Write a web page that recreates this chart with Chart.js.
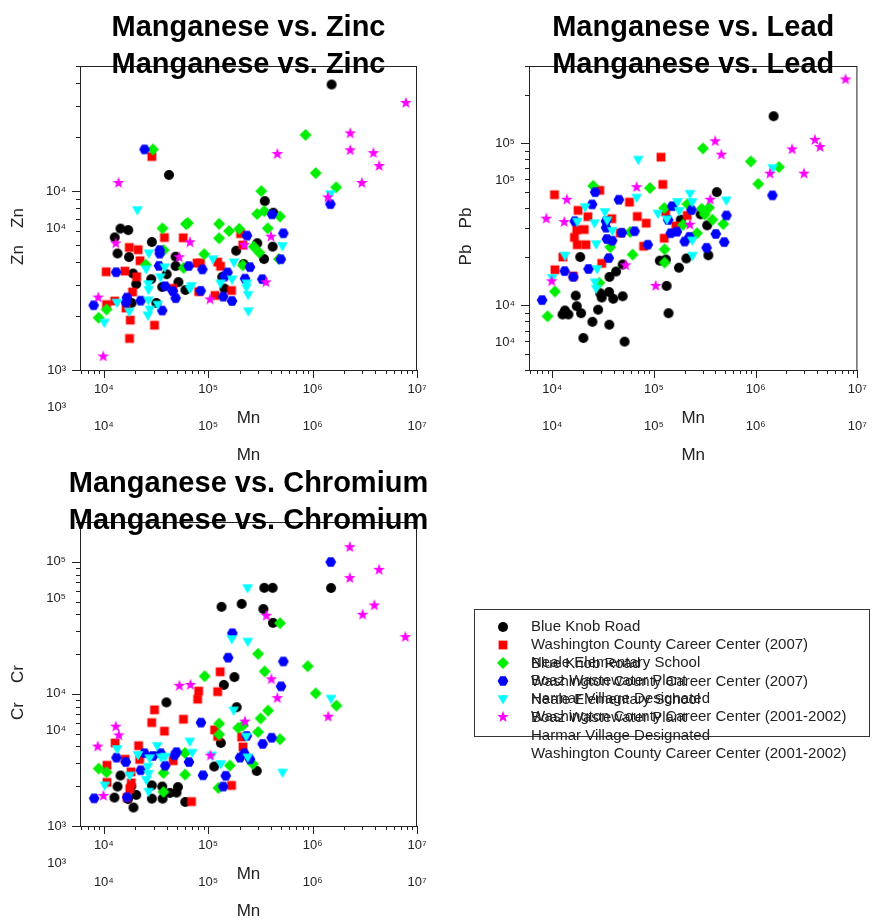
<!DOCTYPE html>
<html>
<head>
<meta charset="utf-8">
<script src="https://cdn.jsdelivr.net/npm/chart.js@4.4.1/dist/chart.umd.min.js"></script>
<style>
  body { margin: 0; background: #fff; width: 879px; height: 923px; position: relative; overflow: hidden; }
  canvas { position: absolute; }
</style>
</head>
<body>
<canvas id="zinc" width="440" height="467" style="left:0;top:0"></canvas>
<canvas id="lead" width="439" height="467" style="left:440px;top:0"></canvas>
<canvas id="chromium" width="440" height="467" style="left:0;top:456px"></canvas>
<canvas id="legend" width="419" height="180" style="left:460px;top:600px"></canvas>
<script>
const seriesNames = ['Blue Knob Road', 'Washington County Career Center (2007)', 'Neale Elementary School',
  'Boaz Wastewater Plant', 'Harmar Village Designated', 'Washington County Career Center (2001-2002)'];
const seriesColors = ['#000000', '#ff0000', '#00ee00', '#0000ff', '#00ffff', '#ff00ff'];
const seriesShapes = ['circle', 'square', 'diamond', 'hexagon', 'triangleDown', 'star'];

// axis ticks (labels only on powers of ten)
const mnTicks = [6e3, 7e3, 8e3, 9e3, 1e4, 2e4, 3e4, 4e4, 5e4, 6e4, 7e4, 8e4, 9e4, 1e5, 2e5, 3e5, 4e5, 5e5, 6e5, 7e5, 8e5, 9e5,
  1e6, 2e6, 3e6, 4e6, 5e6, 6e6, 7e6, 8e6, 9e6, 1e7];
const znTicks = [1e3, 2e3, 3e3, 4e3, 5e3, 6e3, 7e3, 8e3, 9e3, 1e4, 2e4, 3e4, 4e4, 5e4];
const pbTicks = [4e3, 5e3, 6e3, 7e3, 8e3, 9e3, 1e4, 2e4, 3e4, 4e4, 5e4, 6e4, 7e4, 8e4, 9e4, 1e5, 2e5, 3e5];
const crTicks = [1e3, 2e3, 3e3, 4e3, 5e3, 6e3, 7e3, 8e3, 9e3, 1e4, 2e4, 3e4, 4e4, 5e4, 6e4, 7e4, 8e4, 9e4, 1e5, 2e5];

// [Mn, Zn]
const znBlueKnob = [[1520000,39400],[42000,12300],[14400,6170],[17100,6050],[12700,5510],[28800,5190],[13500,4480],[17400,4280],[48600,4300],[19000,3460],[20400,3020],[28400,3220],[39900,3430],[48600,3810],[36200,2910],[51700,3100],[60400,2800],[18400,2370],[31800,2370],[136000,3310],[143000,2850],[185000,4640],[218000,3910],[295000,5110],[348000,8790],[342000,4170],[414000,4890],[420000,7570]];
const znCareer2007 = [[28800,15600],[38000,5500],[57500,5480],[17500,4840],[21300,4700],[22200,4080],[10500,3540],[15900,3570],[20600,3320],[18800,2730],[12700,2430],[10600,2320],[16300,2220],[17900,1900],[30500,1780],[17600,1500],[46000,2860],[78000,3960],[84100,3960],[123000,4010],[131000,3800],[80900,2740],[116000,2610],[167000,2780],[204000,5780],[214000,4990]];
const znNeale = [[29500,17100],[855000,20600],[1070000,12600],[1680000,10500],[322000,10000],[294000,7450],[344000,7730],[487000,7210],[371000,6190],[36400,6190],[61100,6550],[63800,6620],[127000,6560],[127000,5450],[158000,5980],[198000,6150],[91400,4440],[273000,4890],[308000,4530],[37400,4680],[25200,3880],[58100,3720],[214000,3850],[476000,4170],[8910,1960],[10600,2180]];
const znBoaz = [[24500,17100],[1480000,8450],[408000,7410],[524000,5810],[235000,5640],[34200,4680],[34200,4470],[495000,4160],[251000,3760],[64900,3810],[87900,3650],[33700,3820],[13100,3520],[153000,3510],[143000,3330],[329000,3220],[225000,3240],[38700,2940],[45700,2760],[48700,2520],[84600,2770],[139000,2570],[169000,2430],[22500,2440],[16600,2540],[16300,2380],[36200,2150],[7980,2300]];
const znHarmar = [[20900,7830],[1480000,9620],[513000,4930],[26900,4490],[25400,3660],[38300,3750],[34800,3300],[111000,4160],[176000,4000],[131000,3050],[169000,3210],[234000,3050],[232000,2890],[241000,2630],[242000,2130],[69000,2950],[66500,2850],[26700,3020],[26800,2810],[13300,2380],[17500,2120],[26700,2450],[27500,2180],[26400,2020],[32800,2320],[10100,1840]];
const znCareer0102 = [[7820000,31100],[2290000,21000],[2290000,16900],[459000,16100],[3820000,16300],[4340000,13800],[2960000,11100],[13800,11100],[1400000,9220],[13000,5100],[66800,5170],[399000,5560],[221000,4990],[52700,4270],[357000,3090],[104000,2480],[8820,2540],[9850,1190]];

// [Mn, Pb]
const pbBlueKnob = [[1500000,147000],[414000,50000],[333000,31200],[342000,20400],[208000,19500],[176000,17100],[133000,13200],[139000,8960],[114000,18900],[131000,19200],[18800,19900],[49200,17900],[42400,16200],[36500,15000],[29600,11900],[30600,11200],[36100,12100],[39700,11000],[49200,11400],[17000,11500],[17400,9900],[28200,9420],[19200,8960],[13300,9310],[12600,8800],[14400,8800],[24800,7930],[36300,7610],[20200,6300],[51400,5980],[287000,36500],[183000,33800]];
const pbCareer2007 = [[117000,82200],[122000,55800],[10500,48200],[29300,51300],[17900,38600],[22400,35300],[57400,43400],[68500,35400],[83800,32200],[38400,34300],[17400,29300],[20600,29400],[16500,26300],[17600,23700],[21400,23700],[46600,28000],[79000,23200],[30600,18200],[12700,19900],[10600,16600],[16100,15200],[126000,26000],[212000,35900],[164000,30900],[130000,37700]];
const pbNeale = [[303000,93100],[896000,77400],[1690000,71400],[1060000,56200],[25200,54700],[91200,53000],[126000,39900],[213000,42200],[294000,39500],[347000,40100],[315000,36500],[375000,33800],[479000,31800],[193000,31500],[265000,27900],[37100,22900],[61600,20600],[127000,22200],[127000,18400],[29000,13800],[10600,12200],[8980,8580],[58300,28400]];
const pbBoaz = [[1460000,47800],[516000,35900],[490000,24600],[405000,27600],[329000,22700],[234000,38800],[151000,41000],[223000,26500],[200000,24800],[168000,28500],[146000,27900],[86800,23700],[64400,28700],[48300,28100],[45200,44900],[26400,50000],[24600,42000],[16600,33100],[33700,33100],[33800,30200],[34400,25700],[38800,25100],[35900,19600],[22700,16800],[13200,16300],[16100,15000],[7940,10800],[138000,33700]];
const pbHarmar = [[70000,79300],[67400,46300],[226000,48900],[238000,43500],[170000,43500],[514000,44500],[109000,36900],[134000,34000],[177000,38300],[238000,25200],[239000,20300],[21000,40400],[17600,32900],[32900,37700],[34600,33500],[26000,32200],[38800,28900],[27000,23900],[13300,20300],[27600,16800],[26400,13900],[27000,12700],[10000,14800],[1470000,70400]];
const pbCareer0102 = [[7640000,248000],[3820000,105000],[4290000,94900],[2280000,91800],[399000,103000],[459000,85200],[1380000,65000],[2980000,65000],[67400,53700],[13900,44900],[8730,34300],[13100,32700],[357000,44900],[225000,31500],[52600,17700],[104000,13200],[9850,14100]];

// [Mn, Cr]
const crBlueKnob = [[344000,63500],[414000,63500],[1500000,63300],[134000,45600],[209000,48000],[337000,43900],[417000,34500],[178000,13400],[141000,11700],[187000,7930],[132000,4250],[114000,2820],[291000,2610],[39700,8620],[14400,2410],[13500,1990],[12600,1640],[18300,2000],[17000,1600],[20400,1720],[19200,1380],[28800,2030],[36200,1990],[51200,1970],[28800,1610],[36500,1610],[42900,1780],[49600,1790],[60200,1520]];
const crCareer2007 = [[130000,14700],[80900,10500],[79100,9120],[123000,10400],[30500,7570],[28700,6060],[38000,5220],[57800,6430],[115000,5340],[123000,4770],[12800,4250],[21500,4050],[10700,2880],[16000,3200],[22000,3190],[18200,2570],[18300,2120],[17700,1910],[10700,2140],[16600,1640],[46100,3120],[69000,1530],[167000,2030],[215000,3970],[209000,4720]];
const crNeale = [[487000,34300],[300000,20100],[347000,14800],[897000,16200],[1070000,10100],[1690000,8150],[374000,7470],[317000,6520],[300000,5150],[487000,4540],[92300,13600],[127000,5960],[127000,4930],[194000,5530],[215000,5770],[161000,2870],[267000,2950],[125000,1940],[59800,3570],[60000,2450],[37200,2520],[37200,1810],[8900,2720],[10600,2550]];
const crBoaz = [[1490000,99500],[170000,28800],[155000,18800],[524000,17600],[498000,11400],[85100,6060],[234000,4810],[405000,4660],[332000,4180],[221000,3560],[201000,3290],[251000,3200],[89000,2420],[147000,2400],[139000,1990],[65300,3050],[13200,3290],[16200,3050],[22500,2640],[24500,3560],[29500,3390],[35000,3560],[38700,2860],[47400,3430],[49600,3620],[8060,1620],[16700,1650]];
const crHarmar = [[238000,63200],[168000,26000],[239000,24900],[1500000,9210],[175000,7500],[231000,4750],[239000,3310],[132000,2940],[108000,3420],[515000,2540],[66500,4370],[70300,3590],[32400,4040],[13400,3830],[17700,2410],[10200,2030],[21200,3450],[27400,3260],[26400,2810],[26800,2480],[25500,2230],[26800,1820],[38700,3350],[35400,3310]];
const crCareer0102 = [[2270000,129000],[4330000,86900],[2270000,75200],[3900000,46700],[3010000,39700],[7730000,26900],[360000,39000],[402000,12900],[459000,9280],[1410000,6720],[225000,6170],[105000,3410],[52900,11500],[67500,11700],[13000,5650],[13900,4850],[8720,3990],[9890,1690]];

Chart.defaults.font.family = '"Liberation Sans", Arial, Helvetica, sans-serif';
Chart.defaults.color = '#222';

function makeMarker(shape, color) {
  const c = document.createElement('canvas');
  c.width = 14; c.height = 14;
  const g = c.getContext('2d');
  g.translate(7, 7);
  g.fillStyle = color;
  g.beginPath();
  if (shape === 'circle') g.arc(0, 0, 5, 0, Math.PI * 2);
  else if (shape === 'square') g.rect(-4.4, -4.4, 8.8, 8.8);
  else if (shape === 'diamond') { g.moveTo(0, -6); g.lineTo(6, 0); g.lineTo(0, 6); g.lineTo(-6, 0); }
  else if (shape === 'hexagon') {
    for (let k = 0; k < 6; k++) { const a = Math.PI / 3 * k; g.lineTo(5.4 * Math.cos(a), 5.4 * Math.sin(a)); }
  } else if (shape === 'triangleDown') { g.moveTo(-5.4, -3.7); g.lineTo(5.4, -3.7); g.lineTo(0, 5.5); }
  else if (shape === 'star') {
    for (let k = 0; k < 10; k++) {
      const r = k % 2 ? 2.5 : 6.2, a = -Math.PI / 2 + Math.PI / 5 * k;
      g.lineTo(r * Math.cos(a), r * Math.sin(a));
    }
  }
  g.closePath();
  g.fill();
  return c;
}
const markers = seriesShapes.map((s, i) => makeMarker(s, seriesColors[i]));

const sup = {'0': '⁰', '1': '¹', '2': '²', '3': '³', '4': '⁴', '5': '⁵', '6': '⁶', '7': '⁷', '8': '⁸', '9': '⁹'};
function powerLabel(value) {
  const e = Math.log10(value);
  if (Math.abs(e - Math.round(e)) > 1e-9) return '';
  return '10' + String(Math.round(e)).split('').map(d => sup[d]).join('');
}

// box frame + outward tick marks, long on decades
const frameTicks = {
  id: 'frameTicks',
  afterLayout(chart) {
    const t = chart.titleBlock;
    t.left -= 60; t.right += 60;   // keep long titles from being squeezed
  },
  afterDraw(chart) {
    const {ctx, chartArea: a, scales: {x, y}} = chart;
    ctx.save();
    ctx.strokeStyle = '#222';
    ctx.lineWidth = 1;
    ctx.strokeRect(a.left + 0.5, a.top + 0.5, a.right - a.left - 1, a.bottom - a.top);
    ctx.beginPath();
    x.ticks.forEach(t => {
      const px = Math.round(x.getPixelForValue(t.value)) + 0.5;
      ctx.moveTo(px, a.bottom);
      ctx.lineTo(px, a.bottom + (t.label ? 8 : 4));
    });
    y.ticks.forEach(t => {
      const py = Math.round(y.getPixelForValue(t.value)) + 0.5;
      ctx.moveTo(a.left, py);
      ctx.lineTo(a.left - (t.label ? 8 : 4), py);
    });
    ctx.stroke();
    ctx.restore();
  }
};

// the source figure repeats every text a little lower
const echoText = {
  id: 'echoText',
  afterDraw(chart, args, opts) {
    const ctx = chart.ctx;
    ctx.save();
    ctx.translate(0, opts.shift);
    chart.titleBlock.draw();
    Object.values(chart.scales).forEach(s => {
      if (s.options.display === false) return;
      s.drawLabels(chart.chartArea);
      s.drawTitle();
    });
    const lg = chart.legend;
    if (lg && lg.options.display) {
      const lo = lg.options.labels;
      const size = lo.font.size;
      ctx.font = size + 'px ' + Chart.defaults.font.family;
      ctx.fillStyle = lo.color;
      ctx.textAlign = 'left';
      ctx.textBaseline = 'middle';
      lg.legendItems.forEach((item, i) => {
        const hb = lg.legendHitBoxes[i];
        ctx.fillText(item.text, hb.left + lo.pointStyleWidth + size / 2, hb.top + size / 2);
      });
    }
    ctx.restore();
  }
};

const legendFrame = {
  id: 'legendFrame',
  afterDraw(chart) {
    const lg = chart.legend, ctx = chart.ctx;
    ctx.save();
    ctx.strokeStyle = '#333';
    ctx.lineWidth = 1;
    ctx.strokeRect(Math.round(lg.left - 6) + 0.5, Math.round(lg.top - 8) + 0.5, 395, 127);
    ctx.restore();
  }
};

function plotConfig(title, yLabel, series, yMin, yMax, yTicks, axisWidth, yTitlePad, rightPad) {
  return {
    type: 'scatter',
    data: {
      datasets: series.map((pts, i) => ({
        label: seriesNames[i],
        data: pts.map(([x, y]) => ({x, y})),
        pointStyle: markers[i],
        pointRadius: 5,
        order: series.length - i
      }))
    },
    options: {
      responsive: false,
      animation: false,
      events: [],
      layout: {padding: {left: 0, right: rightPad, top: 0, bottom: 37}},
      scales: {
        x: {
          type: 'logarithmic',
          position: 'bottom',
          bounds: 'data',
          min: 5900,
          max: 1e7,
          afterBuildTicks: s => { s.ticks = mnTicks.map(v => ({value: v})); },
          afterFit: s => { s.height = 60; },
          grid: {display: false, drawTicks: false},
          border: {display: false},
          ticks: {autoSkip: false, maxRotation: 0, padding: 12, font: {size: 13}, color: '#222', callback: powerLabel},
          title: {display: true, text: 'Mn', font: {size: 17}, color: '#222', padding: {top: 0, bottom: 1}}
        },
        y: {
          type: 'logarithmic',
          position: 'left',
          bounds: 'data',
          min: yMin,
          max: yMax,
          afterBuildTicks: s => { s.ticks = yTicks.map(v => ({value: v})); },
          afterFit: s => { s.width = axisWidth; },
          grid: {display: false, drawTicks: false},
          border: {display: false},
          ticks: {autoSkip: false, padding: 14, font: {size: 13}, color: '#222', callback: powerLabel},
          title: {display: true, text: yLabel, font: {size: 17}, color: '#222', padding: {top: yTitlePad, bottom: 0}}
        }
      },
      plugins: {
        legend: {display: false},
        tooltip: {enabled: false},
        title: {
          display: true,
          text: title,
          fullSize: false,
          color: '#000',
          font: {size: 29, weight: 'bold'},
          padding: {top: 11, bottom: 20.2}
        },
        echoText: {shift: 37}
      }
    },
    plugins: [frameTicks, echoText]
  };
}

new Chart(document.getElementById('zinc'), plotConfig('Manganese vs. Zinc', 'Zn',
  [znBlueKnob, znCareer2007, znNeale, znBoaz, znHarmar, znCareer0102], 1000, 50000, znTicks, 80, 8.5, 23));
new Chart(document.getElementById('lead'), plotConfig('Manganese vs. Lead', 'Pb',
  [pbBlueKnob, pbCareer2007, pbNeale, pbBoaz, pbHarmar, pbCareer0102], 4000, 300000, pbTicks, 89, 16.5, 12));
new Chart(document.getElementById('chromium'), plotConfig('Manganese vs. Chromium', 'Cr',
  [crBlueKnob, crCareer2007, crNeale, crBoaz, crHarmar, crCareer0102], 1000, 200000, crTicks, 80, 8.5, 23));

new Chart(document.getElementById('legend'), {
  type: 'scatter',
  data: {
    datasets: seriesNames.map((name, i) => ({
      label: name, data: [], pointStyle: markers[i], backgroundColor: seriesColors[i], borderColor: seriesColors[i]
    }))
  },
  options: {
    responsive: false,
    animation: false,
    events: [],
    layout: {padding: {left: 19.5, top: 16.5}},
    scales: {x: {display: false}, y: {display: false}},
    plugins: {
      title: {display: false},
      tooltip: {enabled: false},
      legend: {
        position: 'left',
        align: 'start',
        maxWidth: 400,
        labels: {usePointStyle: true, pointStyleWidth: 41, font: {size: 15}, color: '#222', padding: 3}
      },
      echoText: {shift: 37}
    }
  },
  plugins: [legendFrame, echoText]
});
</script>
</body>
</html>
